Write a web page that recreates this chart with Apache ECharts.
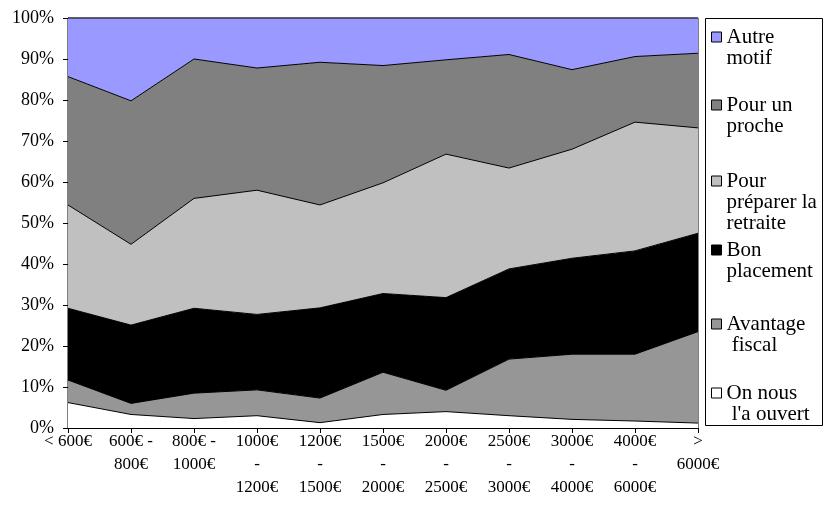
<!DOCTYPE html>
<html>
<head>
<meta charset="utf-8">
<script src="https://cdn.jsdelivr.net/npm/echarts@6/dist/echarts.min.js"></script>
<style>
  html, body { margin: 0; padding: 0; background: #fff; }
  #chart { width: 824px; height: 508px; }
</style>
</head>
<body>
<div id="chart"></div>
<script>
// tranches de revenu
var categories = ['< 600€', '600€ -\n800€', '800€ -\n1000€', '1000€\n-\n1200€', '1200€\n-\n1500€',
  '1500€\n-\n2000€', '2000€\n-\n2500€', '2500€\n-\n3000€', '3000€\n-\n4000€', '4000€\n-\n6000€', '>\n6000€'];

// parts en % (de bas en haut)
var ouvert    = [6.2, 3.3, 2.3, 3.0, 1.3, 3.3, 4.0, 3.0, 2.1, 1.7, 1.2];
var fiscal    = [5.5, 2.7, 6.2, 6.3, 6.0, 10.3, 5.2, 13.8, 15.9, 16.3, 22.3];
var placement = [17.5, 19.1, 20.7, 18.4, 22.0, 19.2, 22.6, 22.0, 23.4, 25.2, 24.0];
var retraite  = [25.2, 19.7, 26.8, 30.3, 25.1, 27.0, 35.0, 24.6, 26.6, 31.4, 25.7];
var proche    = [31.3, 35.0, 34.0, 29.8, 34.8, 28.6, 23.0, 27.7, 19.4, 16.0, 18.2];
var autre     = [14.3, 20.2, 10.0, 12.2, 10.8, 11.6, 10.2, 8.9, 12.6, 9.4, 8.6];

var yTicks = [0, 10, 20, 30, 40, 50, 60, 70, 80, 90, 100];

var font = 'Liberation Serif';
var chart = echarts.init(document.getElementById('chart'));

function serie(name, data, color) {
  return {
    name: name,
    type: 'line',
    stack: 'total',
    data: data,
    symbol: 'none',
    color: color,
    lineStyle: { color: '#000', width: 1 },
    areaStyle: { color: color, opacity: 1 },
    itemStyle: { color: color }
  };
}

// une légende par élément ; lignes vides en tête pour caler l'icône sur la 1re ligne
var L = 21;
function legende(name, label, firstLine) {
  var n = label.split('\n').length;
  var pad = new Array(n).join('\n');
  return {
    data: [name],
    orient: 'vertical',
    left: 711,
    top: firstLine - (2 * n - 1) * L / 2,
    padding: 0,
    icon: 'rect',
    itemWidth: 10,
    itemHeight: 10,
    itemGap: 0,
    selectedMode: false,
    itemStyle: { borderColor: '#000', borderWidth: 1 },
    lineStyle: { width: 0 },
    formatter: function () { return pad + label; },
    textStyle: { fontFamily: font, fontSize: 21, color: '#000', lineHeight: L }
  };
}

var option = {
  animation: false,
  grid: { left: 68, right: 126, top: 18, bottom: 80, show: true, borderColor: '#000', borderWidth: 1 },
  legend: [
    legende('Autre motif', 'Autre\nmotif', 37),
    legende('Pour un proche', 'Pour un\nproche', 105),
    legende('Pour préparer la retraite', 'Pour\npréparer la\nretraite', 181),
    legende('Bon placement', 'Bon\nplacement', 250),
    legende('Avantage fiscal', 'Avantage\n fiscal', 324),
    legende("On nous l'a ouvert", "On nous\n l'a ouvert", 393)
  ],
  graphic: [{
    type: 'rect',
    shape: { x: 705.5, y: 18.5, width: 117, height: 407 },
    style: { fill: 'none', stroke: '#000', lineWidth: 1 }
  }],
  xAxis: {
    type: 'category',
    data: categories,
    boundaryGap: false,
    axisLine: { lineStyle: { color: '#000', width: 1 } },
    axisTick: { show: true, length: 5, lineStyle: { color: '#000' } },
    axisLabel: { interval: 0, color: '#000', fontFamily: font, fontSize: 17, lineHeight: 23, margin: 2 },
    splitLine: { show: false }
  },
  yAxis: {
    type: 'value',
    min: yTicks[0],
    max: yTicks[yTicks.length - 1],
    interval: 10,
    axisLine: { show: true, lineStyle: { color: '#000', width: 1 } },
    axisTick: { show: true, length: 5, lineStyle: { color: '#000' } },
    axisLabel: { color: '#000', fontFamily: font, fontSize: 18, margin: 14, formatter: '{value}%' },
    splitLine: { show: false }
  },
  series: [
    serie("On nous l'a ouvert", ouvert, '#FFFFFF'),
    serie('Avantage fiscal', fiscal, '#969696'),
    serie('Bon placement', placement, '#000000'),
    serie('Pour préparer la retraite', retraite, '#C0C0C0'),
    serie('Pour un proche', proche, '#808080'),
    serie('Autre motif', autre, '#9999FF')
  ]
};

chart.setOption(option);
</script>
</body>
</html>
